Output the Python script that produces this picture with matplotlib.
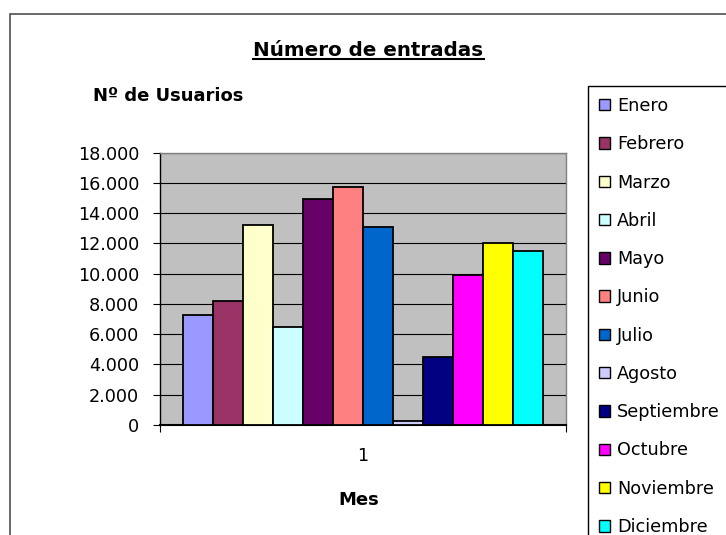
import numpy as np
import matplotlib.pyplot as plt
from matplotlib.patches import Patch, Rectangle
from matplotlib.lines import Line2D

# ── Datos: usuarios por mes ──────────────────────────────────
MESES = ["Enero", "Febrero", "Marzo", "Abril", "Mayo", "Junio", "Julio",
         "Agosto", "Septiembre", "Octubre", "Noviembre", "Diciembre"]
USUARIOS = [7300, 8200, 13200, 6500, 14950, 15750, 13100,
            250, 4500, 9900, 12000, 11500]
COLORES = ["#9999FF", "#993366", "#FFFFCC", "#CCFFFF", "#660066", "#FF8080",
           "#0066CC", "#CCCCFF", "#000080", "#FF00FF", "#FFFF00", "#00FFFF"]
Y_TICKS = np.arange(0, 18001, 2000)
CATEGORIA = ["1"]

W, H = 726, 535
fig = plt.figure(figsize=(W / 100, H / 100), dpi=100)
fig.patch.set_facecolor("white")

# marco del área del gráfico (se sale por la derecha y por abajo)
fig.patches.append(Rectangle((10 / W, -0.1), 1.2, (H - 14) / H + 0.1,
                             transform=fig.transFigure, fill=False,
                             edgecolor="#505050", lw=1.2, zorder=0))

ax = fig.add_axes([160 / W, 1 - 425 / H, 406 / W, 272.3 / H])
ax.set_facecolor("#C0C0C0")

n = len(USUARIOS)
x = np.arange(n) - (n - 1) / 2
ax.bar(x, USUARIOS, width=1.0, color=COLORES, edgecolor="black",
       linewidth=1.3, zorder=3)

ax.set_xlim(-n / 2 - 0.75, n / 2 + 0.75)
ax.set_ylim(0, 18000)

ax.set_yticks(Y_TICKS)
ax.set_yticklabels([f"{v:,.0f}".replace(",", ".") for v in Y_TICKS])
ax.yaxis.grid(True, color="black", lw=0.8, zorder=1)
ax.set_axisbelow(True)
ax.tick_params(axis="y", direction="out", length=5, width=0.8,
               pad=10, labelsize=12.7)

ax.set_xticks([0])
ax.set_xticklabels(CATEGORIA)
ax.set_xticks([-n / 2 - 0.75, n / 2 + 0.75], minor=True)
ax.tick_params(axis="x", which="major", length=0, pad=16, labelsize=12.7)
ax.tick_params(axis="x", which="minor", direction="out", length=5, width=0.8)

ax.spines["left"].set_color("black")
ax.spines["left"].set_linewidth(1.0)
ax.spines["bottom"].set_color("black")
ax.spines["bottom"].set_linewidth(1.5)
for s in ["top", "right"]:
    ax.spines[s].set_color("#808080")
    ax.spines[s].set_linewidth(1.0)

# títulos
title = fig.text(368.5 / W, 1 - 56 / H, "Número de entradas", ha="center",
                 va="baseline", fontsize=14.3, fontweight="bold")
fig.text(92.7 / W, 1 - 101 / H, "Nº de Usuarios", ha="left", va="baseline",
         fontsize=13, fontweight="bold")
fig.text(359 / W, 1 - 505 / H, "Mes", ha="center", va="baseline",
         fontsize=13, fontweight="bold")

# subrayado del título
renderer = fig.canvas.get_renderer()
bb = title.get_window_extent(renderer)
y_line = (H - 58.5) / H
fig.lines.append(Line2D([bb.x0 / W, bb.x1 / W], [y_line, y_line],
                        transform=fig.transFigure, color="black", lw=1.5))

# leyenda
handles = [Patch(facecolor=c, edgecolor="black", lw=1.0) for c in COLORES]
fig.legend(handles, MESES, loc="upper left",
           bbox_to_anchor=(588 / W, 1 - 86 / H), bbox_transform=fig.transFigure,
           borderaxespad=0, fontsize=12.7, frameon=True, fancybox=False,
           edgecolor="black", framealpha=1, borderpad=0.62,
           handlelength=0.62, handleheight=0.62, handletextpad=0.4,
           labelspacing=1.15)

fig.savefig("out.png", dpi=100)
